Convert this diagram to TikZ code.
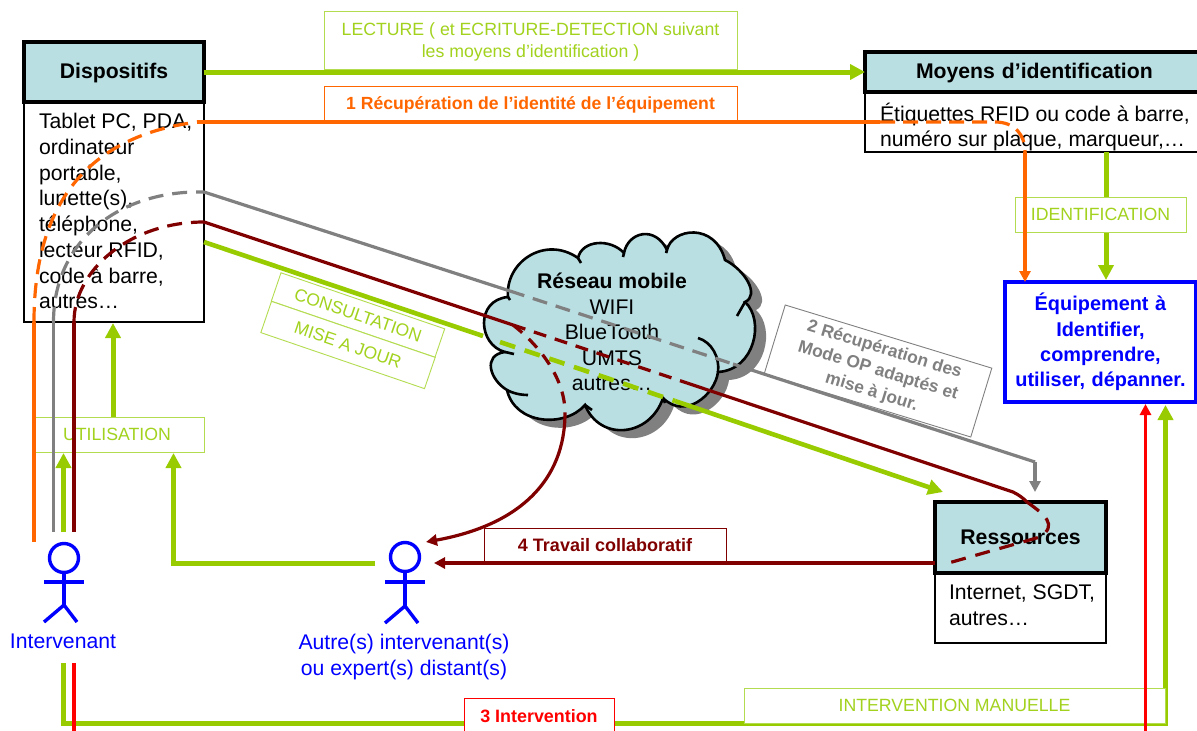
\documentclass[tikz,border=0pt]{standalone}
\usepackage{fontspec}
\setmainfont{Liberation Sans}
\usetikzlibrary{arrows.meta,calc,positioning}
\definecolor{lgreen}{HTML}{99CC00}
\definecolor{tgreen}{HTML}{A2D21E}
\definecolor{bgreen}{HTML}{B4DC50}
\definecolor{orng}{HTML}{FF6600}
\definecolor{dred}{HTML}{800000}
\definecolor{gry}{HTML}{808080}
\definecolor{head}{HTML}{B9DFE3}
\definecolor{blu}{HTML}{0000FF}
\newcommand{\dn}[2]{\raisebox{-#1}[\height][\depth]{#2}}
\tikzset{
 every node/.style={outer sep=0pt},
 headbox/.style={draw=black,line width=3.8pt,fill=head,anchor=north west,inner sep=0pt,font=\fontsize{21.2}{25}\selectfont\bfseries},
 bodybox/.style={draw=black,line width=2.4pt,fill=white,anchor=north west,inner sep=0pt},
 bodytext/.style={anchor=north west,align=left,inner sep=0pt,font=\fontsize{21.2}{25.7}\selectfont},
 lab/.style={draw=bgreen,line width=0.9pt,fill=white,anchor=north west,inner sep=0pt,text=tgreen,align=center,font=\fontsize{17.7}{22}\selectfont},
 ghost/.style={inner sep=0pt,align=center},
 gline/.style={draw=lgreen,line width=5pt},
 gtip/.style={-{Triangle[length=15pt,width=15pt]}},
 oline/.style={draw=orng,line width=3.2pt},
 rline/.style={draw=dred,line width=3.2pt},
 yline/.style={draw=gry,line width=3.2pt},
 tip/.style={-{Triangle[length=11pt,width=11pt]}},
 dash1/.style={dash pattern=on 15pt off 9pt},
 actor/.style={draw=blu,line width=3.4pt},
 cloudp/.style={line width=2.6pt,black},
}
\begin{document}
\begin{tikzpicture}[x=1pt,y=-1pt]
\useasboundingbox (0,0) rectangle (1197,731);
\clip (0,0) rectangle (1197,731);
% cloud shadow and cloud
\def\cloudpath{(508,297) .. controls (505,262) and (545,235) .. (578,258)
 .. controls (582,240) and (610,238) .. (624,253)
 .. controls (628,232) and (655,225) .. (667,250)
 .. controls (672,228) and (715,222) .. (725,260)
 .. controls (745,270) and (760,295) .. (745,302)
 .. controls (765,320) and (755,370) .. (718,372)
 .. controls (715,395) and (685,420) .. (663,398)
 .. controls (650,437) and (600,442) .. (585,405)
 .. controls (565,428) and (515,425) .. (507,390)
 .. controls (490,380) and (482,355) .. (505,352)
 .. controls (478,345) and (475,300) .. (508,297) -- cycle}
\fill[gry,shift={(11,8)}] \cloudpath;
\draw[cloudp,fill=head] \cloudpath;
\draw[cloudp] (578,258) -- (581,263);
\draw[cloudp] (624,253) -- (623,257);
\draw[cloudp] (667,250) -- (666,253);
\draw[cloudp] (745,302) -- (737,316);
\draw[cloudp] (698,338) .. controls (712,342) and (720,358) .. (718,372);
\draw[cloudp] (663,398) -- (665,403);
\draw[cloudp] (585,405) -- (592,410);
\draw[cloudp] (507,390) .. controls (512,393) and (520,395) .. (528,395);
\draw[cloudp] (505,352) -- (514,354);
\draw[cloudp] (508,297) -- (510,300);
\node[ghost,font=\fontsize{21.2}{25.5}\selectfont] (cloudtxt) at (612,332) {{\bfseries Réseau mobile}\\WIFI\\BlueTooth\\UMTS\\autres…};
% boxes
\node[bodybox,minimum width=180pt,minimum height=220pt] (db) at (24,102) {};
\node[headbox,minimum width=180pt,minimum height=60pt] (dh) at (24,42) {\dn{1.5pt}{Dispositifs}\hspace{5pt}};
\node[bodytext] (dt) at (39,113.5) {Tablet PC, PDA,\\ordinateur\\portable,\\lunette(s),\\téléphone,\\lecteur RFID,\\code à barre,\\autres…};
\node[bodybox,minimum width=340pt,minimum height=60pt] (mb) at (865,92) {};
\node[headbox,minimum width=340pt,minimum height=40pt,text width=340pt,align=left] (mh) at (865,52) {\hspace{51pt}\dn{1.5pt}{Moyens d’identification}};
\node[bodytext,font=\fontsize{21.2}{25}\selectfont] (mt) at (880,103) {Étiquettes RFID ou code à barre,\\numéro sur plaque, marqueur,…};
\node[bodybox,minimum width=171pt,minimum height=70pt] (rb) at (935,573) {};
\node[headbox,minimum width=171pt,minimum height=71pt] (rh) at (935,502) {Ressources};
\node[bodytext] (rt) at (949,585) {Internet, SGDT,\\autres…};
\node[draw=blu,line width=3.8pt,fill=white,anchor=north west,inner sep=0pt,minimum width=191pt,minimum height=120pt,text width=191pt,align=center,text=blu,font=\fontsize{19.9}{25.4}\selectfont\bfseries] (eq) at (1005,282) {Équipement à\\Identifier,\\comprendre,\\utiliser, dépanner.};
% named free ends
\coordinate (u1) at (34,542);
\coordinate (u2) at (53.5,532);
\coordinate (u3) at (63.5,532);
\coordinate (u4) at (74,532);
\coordinate (b3) at (63.5,663);
\coordinate (b4) at (74,663);
\coordinate (yb) at (1035,462);
% green connectors under label boxes
\draw[gline,gtip] (dh.east) -- (mh.west);
\draw[gline,gtip] (mb.south -| 1106,0) -- (1106,280);
\draw[gline,gtip] (113,417) -- (113,323);
\draw[gline] (b3) -- (63.5,723) -- (1165.5,723);
\draw[gline,gtip] (1165.5,725.5) -- (1165.5,405);
\draw[gline,gtip] (375,563) -- (173.5,563) -- (173.5,453);
% label boxes
\node[lab,minimum width=413pt,minimum height=58pt] (llect) at (324,11) {\dn{2pt}{LECTURE ( et ECRITURE-DETECTION suivant}\\\dn{2pt}{les moyens d'identification )}};
\node[lab,draw=orng,text=orng,minimum width=413pt,minimum height=34pt,font=\fontsize{17.6}{20}\selectfont\bfseries] (lrec) at (324,86) {\dn{2pt}{1 Récupération de l'identité de l'équipement}};
\node[lab,minimum width=171pt,minimum height=35pt] (lid) at (1015,197) {IDENTIFICATION};
\node[lab,minimum width=169pt,minimum height=35pt] (lut) at (35,417) {UTILISATION\hspace{5pt}};
\node[lab,minimum width=421pt,minimum height=35pt] (lim) at (744,688) {INTERVENTION MANUELLE};
\node[lab,draw=dred,text=dred,minimum width=242pt,minimum height=35pt,font=\fontsize{18}{20}\selectfont\bfseries] (ltr) at (484,528) {4 Travail collaboratif};
% rotated labels
\node[lab,anchor=center,rotate=-18.9,minimum width=173pt,minimum height=30pt,font=\fontsize{17.5}{20}\selectfont] (lco) at (358,315) {CONSULTATION};
\node[lab,anchor=center,rotate=-18.9,minimum width=173pt,minimum height=33pt,font=\fontsize{17.5}{20}\selectfont] (lmj) at (348,345) {MISE A JOUR};
\node[lab,draw=gry,text=gry,anchor=center,rotate=-17,minimum width=216pt,minimum height=72pt,font=\fontsize{17.4}{22}\selectfont\bfseries] (lgr) at (878,371) {2 Récupération des\\Mode OP adaptés et\\mise à jour.};
% green main line
\coordinate (g1) at (204,242);
\coordinate (g2) at (483,336);
\coordinate (g3) at (675,401);
\coordinate (g4) at (943,492);
\draw[gline,line width=4.6pt] (g1) -- (g2);
\draw[gline,line width=4.6pt,dash pattern=on 16pt off 10pt] (500,342) -- (g3);
\draw[gline,line width=4.6pt,gtip] (g3) -- (g4);
\draw[gline,gtip] (u3) -- (63.5,453);
% orange
\coordinate (o1) at (197,122);
\coordinate (o2) at (880,122);
\coordinate (o3) at (1025,152);
\draw[oline] (u1) -- (34,322);
\draw[oline,dash1] (34,322) .. controls (34,190) and (100,135) .. (o1);
\draw[oline] (o1) -- (o2);
\draw[oline,dash pattern=on 15pt off 8pt] (o2) -- (995,122) .. controls (1015,122) and (1025,135) .. (o3);
\draw[oline,tip] (o3) -- (eq.north -| o3);
% gray
\coordinate (y1) at (204,192);
\coordinate (y2) at (510,291);
\coordinate (y3) at (733,364);
\draw[yline] (u2) -- (53.5,322);
\draw[yline,dash1] (53.5,322) .. controls (53.5,240) and (120,190) .. (y1);
\draw[yline] (y1) -- (y2);
\draw[yline,dash1] (y2) -- (y3);
\draw[yline] (y3) -- (yb);
\draw[yline,line width=3.6pt,tip] (yb) -- (1035,492);
% dark red
\coordinate (r1) at (204,222);
\coordinate (r2) at (513,325);
\coordinate (r3) at (687,383);
\coordinate (r4) at (1013,492);
\coordinate (r5) at (1027,502);
\coordinate (r6) at (945,564);
\coordinate (r7) at (565,413);
\coordinate (a2t) at (426,542);
\draw[rline] (u4) -- (74,322);
\draw[rline,dash1] (74,322) .. controls (74,270) and (130,222) .. (r1);
\draw[rline] (r1) -- (r2);
\draw[rline,dash pattern=on 13pt off 9pt] (r2) -- (r3);
\draw[rline] (r3) -- (r4) .. controls (1019,495) and (1023,498) .. (r5);
\draw[rline,dash pattern=on 15pt off 10pt] (r5) .. controls (1045,515) and (1058,525) .. (1040,537) -- (r6);
\draw[rline,dash pattern=on 12pt off 9pt] (r2) .. controls (535,342) and (565,375) .. (r7);
\draw[rline,tip] (r7) .. controls (565,480) and (520,525) .. (a2t);
\draw[rline,tip] (rh.west |- 0,563) -- (434,563);
% red
\draw[draw=red,line width=3.4pt] (b4) -- (74,735) -- (1145.5,735);
\draw[draw=red,line width=3.4pt,tip] (1145.5,735) -- (1145.5,404);
\node[lab,draw=red,text=red,minimum width=150pt,minimum height=36pt,font=\fontsize{17.9}{20}\selectfont\bfseries] (l3) at (464,698) {3 Intervention};
% actors
\node[actor,circle,minimum size=29pt,inner sep=0pt] (h1) at (64,558) {};
\draw[actor] (h1.south) -- (64,605) coordinate (c1);
\draw[actor] (44,582) -- (84,582);
\draw[actor] (44,622) -- (c1) -- (77,622);
\node[text=blu,inner sep=0pt,font=\fontsize{21.2}{25}\selectfont] (n1) at (63,641) {Intervenant};
\node[actor,circle,minimum size=29pt,inner sep=0pt] (h2) at (405,557) {};
\draw[actor] (h2.south) -- (405,606) coordinate (c2);
\draw[actor] (385,582) -- (425,582);
\draw[actor] (385,623) -- (c2) -- (418,623);
\node[text=blu,inner sep=0pt,align=center,font=\fontsize{21.2}{26}\selectfont] (n2) at (404,657) {Autre(s) intervenant(s)\\ou expert(s) distant(s)};
\end{tikzpicture}
\end{document}
